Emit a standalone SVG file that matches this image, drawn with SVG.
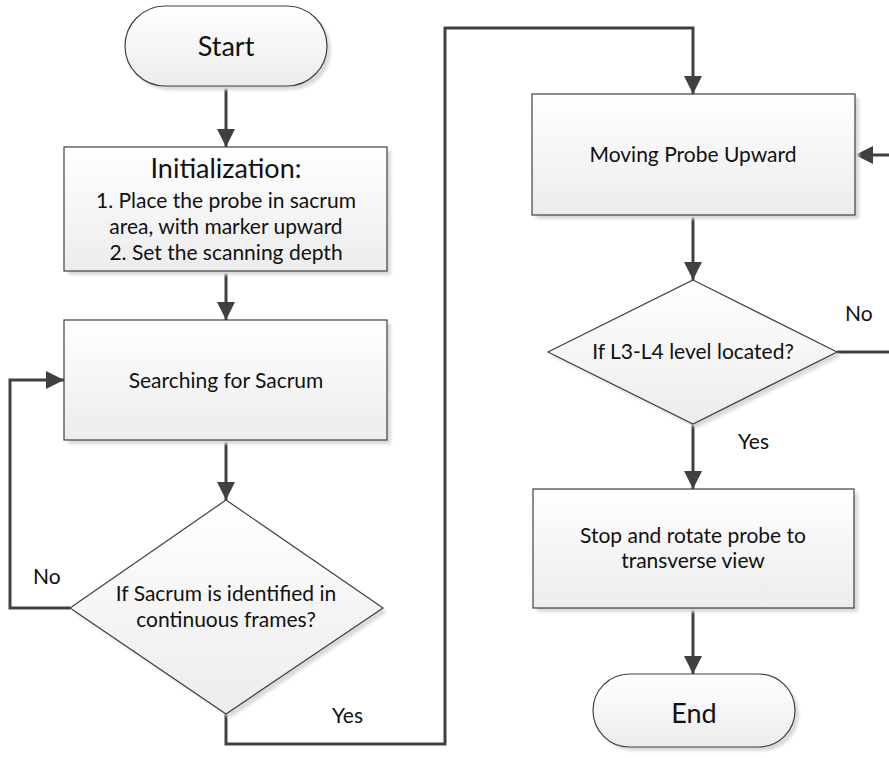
<svg xmlns="http://www.w3.org/2000/svg" width="889" height="758" viewBox="0 0 889 758">
  <defs>
    <linearGradient id="fillGrad" x1="0" y1="0" x2="0" y2="1">
      <stop offset="0" stop-color="#ffffff"/>
      <stop offset="1" stop-color="#ececec"/>
    </linearGradient>
    <filter id="soft" x="-10%" y="-10%" width="120%" height="120%">
      <feGaussianBlur stdDeviation="1.5"/>
    </filter>
    <marker id="arrow" viewBox="0 0 18 18" refX="18" refY="9" markerWidth="18" markerHeight="18" markerUnits="userSpaceOnUse" orient="auto">
      <path d="M0,0 L18,9 L0,18 z" fill="#404040"/>
    </marker>
  </defs>
  <style>
    .shape { fill: url(#fillGrad); stroke: #404040; stroke-width: 1.2; }
    .shadow { fill: #dadada; filter: url(#soft); }
    .conn { fill: none; stroke: #404040; stroke-width: 3; }
    .arr { marker-end: url(#arrow); }
    text { font-family: Lato, "Liberation Sans", sans-serif; fill: #111111; text-anchor: middle; }
    .big { font-size: 27px; }
    .mid { font-size: 21px; }
    .lbl { font-size: 21px; text-anchor: start; }
  </style>

  <rect width="889" height="758" fill="#ffffff"/>

  <!-- connectors -->
  <g id="connectors">
    <path class="conn arr" d="M226,86 V147"/>
    <path class="conn arr" d="M226,271 V320"/>
    <path class="conn arr" d="M226,440 V500"/>
    <path class="conn arr" d="M70,608 H10 V380 H64"/>
    <path class="conn arr" d="M226,714 V744 H445 V28 H693 V94"/>
    <path class="conn arr" d="M693,215 V280"/>
    <path class="conn arr" d="M837,352 H896 V155 H855"/>
    <path class="conn arr" d="M693,424 V489"/>
    <path class="conn arr" d="M693,608 V674"/>
    <text class="lbl" x="33" y="584">No</text>
    <text class="lbl" x="332" y="723">Yes</text>
    <text class="lbl" x="845" y="321">No</text>
    <text class="lbl" x="738" y="449">Yes</text>
  </g>

  <!-- start terminal -->
  <g id="start">
    <rect class="shadow" x="129" y="10" width="202" height="80" rx="40"/>
    <rect class="shape" x="125" y="6" width="202" height="80" rx="40"/>
    <text class="big" x="226" y="56">Start</text>
  </g>

  <!-- initialization step -->
  <g id="init">
    <rect class="shadow" x="68" y="151" width="323" height="124"/>
    <rect class="shape" x="64" y="147" width="323" height="124"/>
    <text class="big" x="226" y="178">Initialization:</text>
    <text class="mid" x="226" y="208">1. Place the probe in sacrum</text>
    <text class="mid" x="226" y="234">area, with marker upward</text>
    <text class="mid" x="226" y="260">2. Set the scanning depth</text>
  </g>

  <!-- search step -->
  <g id="search">
    <rect class="shadow" x="68" y="324" width="323" height="120"/>
    <rect class="shape" x="64" y="320" width="323" height="120"/>
    <text class="mid" x="226" y="388">Searching for Sacrum</text>
  </g>

  <!-- sacrum decision -->
  <g id="sacrumCheck">
    <polygon class="shadow" points="230,504 387,612 230,718 74,612"/>
    <polygon class="shape" points="226,500 383,608 226,714 70,608"/>
    <text class="mid" x="226" y="601">If Sacrum is identified in</text>
    <text class="mid" x="226" y="627">continuous frames?</text>
  </g>

  <!-- moving step -->
  <g id="moving">
    <rect class="shadow" x="536" y="98" width="323" height="121"/>
    <rect class="shape" x="532" y="94" width="323" height="121"/>
    <text class="mid" x="693" y="162">Moving Probe Upward</text>
  </g>

  <!-- level decision -->
  <g id="levelCheck">
    <polygon class="shadow" points="697,284 841,356 697,428 552,356"/>
    <polygon class="shape" points="693,280 837,352 693,424 548,352"/>
    <text class="mid" x="693" y="359">If L3-L4 level located?</text>
  </g>

  <!-- rotate step -->
  <g id="rotate">
    <rect class="shadow" x="537" y="493" width="321" height="119"/>
    <rect class="shape" x="533" y="489" width="321" height="119"/>
    <text class="mid" x="693" y="543">Stop and rotate probe to</text>
    <text class="mid" x="693" y="568">transverse view</text>
  </g>

  <!-- end terminal -->
  <g id="end">
    <rect class="shadow" x="597" y="678" width="202" height="73" rx="36.5"/>
    <rect class="shape" x="593" y="674" width="202" height="73" rx="36.5"/>
    <text class="big" x="694" y="723">End</text>
  </g>
</svg>
